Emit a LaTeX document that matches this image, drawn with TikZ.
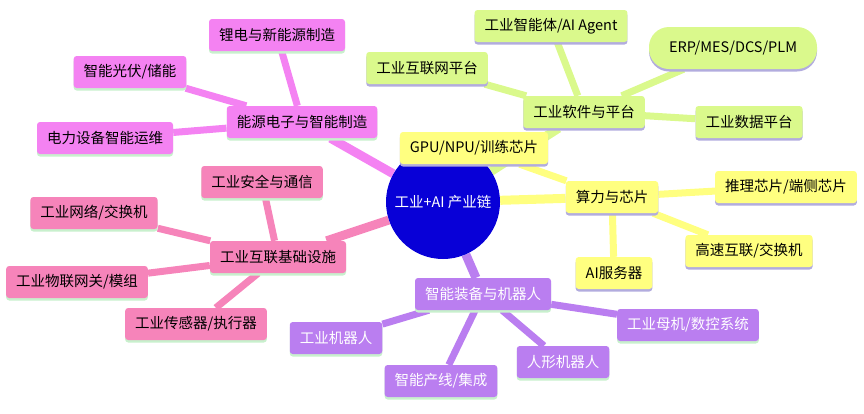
\documentclass[tikz,border=0pt]{standalone}
\usepackage{fontspec}
\setmainfont{Noto Sans CJK SC}
\usepackage{xcolor}
\usepackage{tikz}
\usetikzlibrary{shapes.geometric,shadows,backgrounds,calc}

\definecolor{hubblue}{RGB}{8,0,215}
\definecolor{energypink}{RGB}{244,130,242}
\definecolor{infrapink}{RGB}{246,132,186}
\definecolor{robotpurple}{RGB}{186,126,240}
\definecolor{chipyellow}{RGB}{255,255,128}
\definecolor{softlime}{RGB}{218,249,140}
\definecolor{shadegreen}{RGB}{200,240,205}
\definecolor{shadelilac}{RGB}{178,172,222}

\begin{document}
\begin{tikzpicture}[
  x=1pt, y=-1pt,
  every node/.style={font=\fontsize{14.5}{16}\selectfont},
  leafbox/.style={rectangle, rounded corners=3pt, minimum height=32pt,
    inner xsep=10pt, inner ysep=4pt,
    drop shadow={shadow xshift=0pt, shadow yshift=-2.5pt, fill=#1, opacity=1}},
  energybox/.style={leafbox=shadegreen, fill=energypink},
  infrabox/.style={leafbox=shadegreen, fill=infrapink},
  robotbox/.style={leafbox=shadegreen, fill=robotpurple, text=white},
  chipbox/.style={leafbox=shadelilac, fill=chipyellow},
  softbox/.style={leafbox=shadelilac, fill=softlime},
  hub/.style={circle, fill=hubblue, text=white, minimum size=114pt, inner sep=0pt},
  trunk/.style={line width=9pt, draw=#1},
  twig/.style={line width=7pt, draw=#1}
]
\useasboundingbox (0,0) rectangle (864,413);

\node (hub) [hub] at (443,202) {工业+AI 产业链};

\node (energy)  [energybox] at (302,122) {能源电子与智能制造};
\node (lithium) [energybox] at (277,35)  {锂电与新能源制造};
\node (solar)   [energybox] at (130,72)  {智能光伏/储能};
\node (grid)    [energybox] at (105,138) {电力设备智能运维};

\node (infra)   [infrabox] at (278,257) {工业互联基础设施};
\node (secure)  [infrabox] at (262,182) {工业安全与通信};
\node (network) [infrabox] at (94,213)  {工业网络/交换机};
\node (gateway) [infrabox] at (77,282)  {工业物联网关/模组};
\node (sensor)  [infrabox] at (196,324) {工业传感器/执行器};

\node (robot)    [robotbox] at (483,294) {智能装备与机器人};
\node (arm)      [robotbox] at (336,338) {工业机器人};
\node (line)     [robotbox] at (441,381) {智能产线/集成};
\node (humanoid) [robotbox] at (563,362) {人形机器人};
\node (cnc)      [robotbox] at (688,325) {工业母机/数控系统};

\node (chip)   [chipbox] at (612,197) {算力与芯片};
\node (gpu)    [chipbox] at (474,148) {GPU/NPU/训练芯片};
\node (infer)  [chipbox] at (786,187) {推理芯片/端侧芯片};
\node (link)   [chipbox] at (749,251) {高速互联/交换机};
\node (server) [chipbox] at (614,273) {AI服务器};

\node (soft)     [softbox] at (584,112) {工业软件与平台};
\node (iiot)     [softbox] at (427,68)  {工业互联网平台};
\node (agent)    [softbox] at (551,26)  {工业智能体/AI Agent};
\node (erp)      [softbox, rounded corners=20pt, minimum height=42pt, inner xsep=20pt] at (733,48) {ERP/MES/DCS/PLM};
\node (data)     [softbox] at (749,122) {工业数据平台};

\begin{scope}[on background layer]
\draw[trunk=energypink]  (hub) -- (energy);
\draw[trunk=infrapink]   (hub) -- (infra);
\draw[trunk=robotpurple] (hub) -- (robot);
\draw[trunk=chipyellow]  (hub) -- (chip);
\draw[trunk=softlime]    (hub) -- (soft);

\draw[twig=energypink] (energy) -- (lithium);
\draw[twig=energypink] (energy) -- (solar);
\draw[twig=energypink] (energy) -- (grid);

\draw[twig=infrapink] (infra) -- (secure);
\draw[twig=infrapink] (infra) -- (network);
\draw[twig=infrapink] (infra) -- (gateway);
\draw[twig=infrapink] (infra) -- (sensor);

\draw[twig=robotpurple] (robot) -- (arm);
\draw[twig=robotpurple] (robot) -- (line);
\draw[twig=robotpurple] (robot) -- (humanoid);
\draw[twig=robotpurple] (robot) -- (cnc);

\draw[twig=chipyellow] (chip) -- (gpu);
\draw[twig=chipyellow] (chip) -- (infer);
\draw[twig=chipyellow] (chip) -- (link);
\draw[twig=chipyellow] (chip) -- (server);

\draw[twig=softlime] (soft) -- (iiot);
\draw[twig=softlime] (soft) -- (agent);
\draw[twig=softlime] (soft) -- (erp);
\draw[twig=softlime] (soft) -- (data);
\end{scope}
\end{tikzpicture}
\end{document}
